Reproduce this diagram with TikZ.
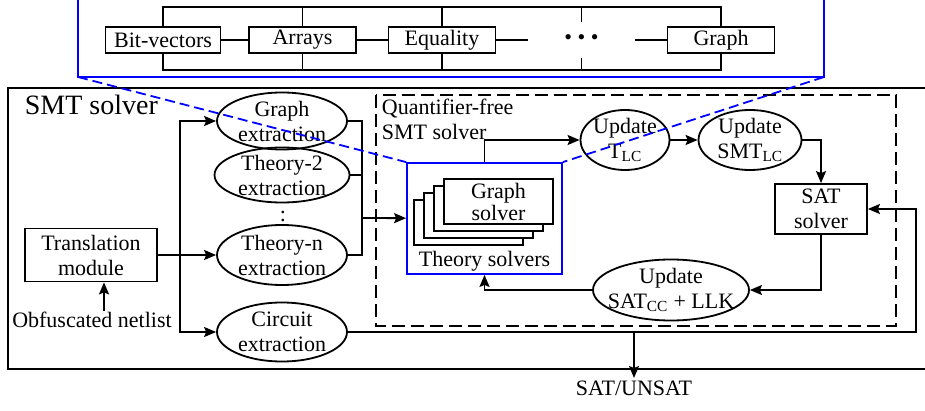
\documentclass[tikz,border=0pt]{standalone}
\usepackage{fontspec}
\setmainfont{Liberation Serif}
\usepackage{tikz}
\usetikzlibrary{arrows.meta,shapes.geometric}

\begin{document}
\begin{tikzpicture}[x=1pt,y=-1pt,->,>={Stealth[length=12pt,width=10pt,inset=2pt]},node distance=139.5pt,
                    line width=1.8pt,font=\fontsize{22}{25}\selectfont,
                    box node/.style={rectangle,draw,-,align=center,inner sep=0pt},
                    th node/.style={box node,minimum width=107pt,minimum height=26pt},
                    ext node/.style={ellipse,draw,-,align=center,inner sep=-12pt,minimum width=130pt,minimum height=57pt},
                    upd node/.style={ellipse,draw,-,align=center,inner sep=-12pt,minimum height=60pt},
                    zoom line/.style={blue,-,dash pattern=on 10pt off 5pt}]
  \useasboundingbox (0,0) rectangle (925,411);

  % theories inside the zoomed box
  \node[th node,minimum width=115pt] (bv) at (163,40) {Bit-vectors};
  \node[th node] (arr) [right of=bv] {Arrays};
  \node[th node] (eq) [right of=arr] {Equality};
  \node[minimum width=106pt,minimum height=35pt,inner sep=0pt] (dots) [right of=eq]
    {\textbullet\hspace{5.5pt}\textbullet\hspace{5.5pt}\textbullet};
  \node[th node] (gr) [right of=dots] {Graph};

  \coordinate (bustop) at (0,7);
  \coordinate (busbot) at (0,70);
  \draw[-] (bv.north) -- (bv.north |- bustop) -- (gr.north |- bustop) -- (gr.north);
  \draw[-] (bv.south) -- (bv.south |- busbot) -- (gr.south |- busbot) -- (gr.south);
  \foreach \n in {arr,eq,dots}
  {
    \draw[-] (\n.north) -- (\n.north |- bustop);
    \draw[-] (\n.south) -- (\n.south |- busbot);
  }
  \draw[-] (bv) -- (arr);
  \draw[-] (arr) -- (eq);
  \draw[-] (eq) -- (dots);
  \draw[-] (dots) -- (gr);

  \coordinate (zl) at (78,77);
  \coordinate (zr) at (824,77);
  \draw[blue,-] (78,-5) -- (zl) -- (zr) -- (824,-5);

  % SMT solver frame
  \draw[-] (930,88) -| (8,369) -- (930,369);
  \node[anchor=base west,inner sep=0pt,font=\fontsize{28}{30}\selectfont] (smt) at (24,115) {SMT solver};

  % front end
  \node[box node,minimum width=132pt,minimum height=53pt] (trans) at (91,255) {Translation\\module};
  \node[inner sep=0pt] (obf) at (92,320) {Obfuscated netlist};
  \node[ext node] (gext) at (282,121) {Graph\\extraction};
  \node[ext node,minimum width=135pt,minimum height=55pt] (text2) at (282,175) {Theory-2\\extraction};
  \node (vdots) at (283,216) {:};
  \node[ext node,minimum height=60pt] (next) at (282,255) {Theory-n\\extraction};
  \node[ext node,minimum height=59pt] (cext) at (282,332) {Circuit\\extraction};

  \draw[->] ([xshift=12pt]obf.north) -- ([xshift=12pt]obf.north |- trans.south);
  \coordinate (split) at (180,255);
  \draw[->] (trans) -- (next);
  \draw[->] (split) |- (gext);
  \draw[->] (split) |- (cext);

  % quantifier-free part
  \draw[-,dash pattern=on 13pt off 6pt] (376,95) rectangle (896,326);
  \node[anchor=north west,align=left,inner sep=2pt] (qf) at (379,96) {Quantifier-free\\SMT solver};

  \node[draw=blue,-,minimum width=155pt,minimum height=111pt,inner sep=0pt] (ts) at (484.5,218.5) {};
  \foreach \k in {3,2,1}
    \node[box node,fill=white,minimum width=109pt,minimum height=45pt] (gs\k) at (498.5-10*\k,201.5+7*\k) {};
  \node[box node,fill=white,minimum width=109pt,minimum height=45pt,font=\fontsize{22}{22}\selectfont] (gs) at (498.5,201.5) {Graph\\solver};
  \node[inner sep=0pt] (tslabel) at (484.5,261) {Theory solvers};

  \node[upd node,minimum width=89pt] (tlc) at (625,140) {Update\\T\textsubscript{LC}};
  \node[upd node,minimum width=103pt] (smtlc) at (750,140) {Update\\SMT\textsubscript{LC}};
  \node[box node,minimum width=92pt,minimum height=50pt] (sat) at (821,209) {SAT\\solver};
  \node[upd node,minimum width=156pt,minimum height=61pt] (satcc) at (671,290) {Update\\SAT\textsubscript{CC} + LLK};

  \coordinate (join) at (362,218);
  \draw[-] (gext) -| (join);
  \draw[-] (text2) -| (join);
  \draw[-] (next) -| (join);
  \draw[->] (join) -- (ts);

  \draw[->] (ts.north) |- (tlc);
  \draw[->] (tlc) -- (smtlc);
  \draw[->] (smtlc) -| (sat);
  \draw[->] (sat) |- (satcc);
  \draw[->] (satcc) -| (ts);

  % circuit path back to the SAT solver, and the answer
  \coordinate (fb) at (916,209);
  \coordinate (out) at (634,332);
  \draw[->] (cext) -| (fb) -- (sat);
  \node[anchor=north,inner sep=2pt] (res) at (634,378) {SAT/UNSAT};
  \draw[->] (out) -- (res);

  % zoom lines
  \draw[zoom line] (zl) -- (ts.north west);
  \draw[zoom line] (zr) -- (ts.north east);
\end{tikzpicture}
\end{document}
